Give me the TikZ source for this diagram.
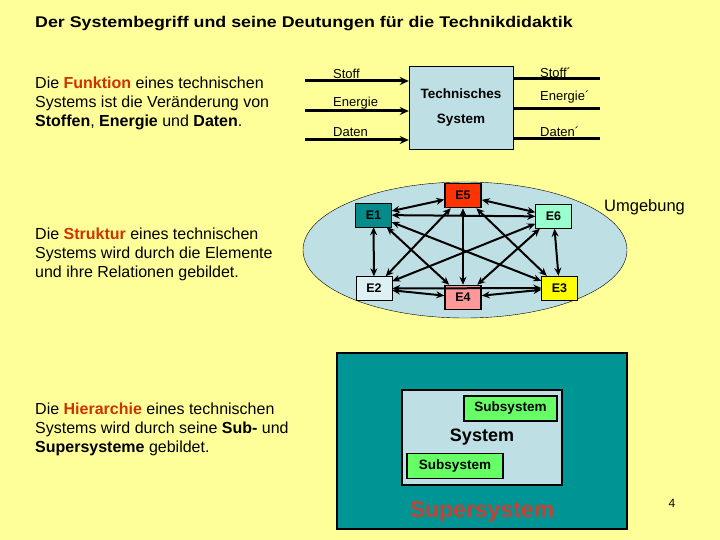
\documentclass[tikz,border=0pt]{standalone}
\usepackage{fontspec}
\setmainfont{Liberation Sans}
\newfontfamily\widefont[FakeStretch=1.15]{Liberation Sans}
\usetikzlibrary{arrows.meta}

\definecolor{bgyellow}{HTML}{FFFF99}
\definecolor{sysblue}{HTML}{BEDFE4}
\definecolor{keyred}{HTML}{CC3300}
\definecolor{supred}{HTML}{C44232}
\definecolor{teal1}{HTML}{068A8A}
\definecolor{teal2}{HTML}{009595}
\definecolor{red5}{HTML}{FF3300}
\definecolor{green6}{HTML}{99FFCC}
\definecolor{blue2}{HTML}{DDF1F4}
\definecolor{pink4}{HTML}{FF9999}
\definecolor{yellow3}{HTML}{FFFF00}
\definecolor{subgreen}{HTML}{66FF66}

\tikzset{
  para/.style={anchor=north west,inner sep=0pt,align=left,font=\fontsize{16}{19}\selectfont},
  flowlabel/.style={anchor=west,inner sep=0pt,font=\fontsize{13}{15}\selectfont},
  flow/.style={line width=3pt},
  elem/.style={draw,minimum width=36pt,minimum height=24pt,inner sep=0pt,font=\fontsize{12.5}{15}\selectfont\bfseries},
  rel/.style={{Stealth[length=8pt,width=7pt]}-{Stealth[length=8pt,width=7pt]},line width=2pt},
  subsys/.style={draw,line width=1.5pt,fill=subgreen,minimum height=25pt,inner sep=0pt,font=\fontsize{13.5}{15}\selectfont\bfseries}
}

\newcommand{\kw}[1]{{\bfseries\color{keyred}#1}}

\begin{document}
\begin{tikzpicture}[x=1pt,y=-1pt]
  \fill[bgyellow] (0,0) rectangle (720,540);
  \useasboundingbox (0,0) rectangle (720,540);

  \node [anchor=west,inner sep=0pt,font=\widefont\fontsize{15.5}{18}\selectfont\bfseries] (title) at (35,24)
    {Der Systembegriff und seine Deutungen für die Technikdidaktik};

  \node [para] (funktion) at (35,77) {Die \kw{Funktion} eines technischen\\
    Systems ist die Veränderung von\\
    \textbf{Stoffen}, \textbf{Energie} und \textbf{Daten}.};
  \node [para] (struktur) at (35,228) {Die \kw{Struktur} eines technischen\\
    Systems wird durch die Elemente\\
    und ihre Relationen gebildet.};
  \node [para] (hierarchie) at (35,403) {Die \kw{Hierarchie} eines technischen\\
    Systems wird durch seine \textbf{Sub-} und\\
    \textbf{Supersysteme} gebildet.};

  \node [draw,fill=sysblue,minimum width=104pt,minimum height=83pt,align=center,
    font=\fontsize{13.5}{25}\selectfont\bfseries] (techsys) at (461,107.5) {Technisches\\System};

  \coordinate (in1) at (305,81);
  \coordinate (in2) at (305,111);
  \coordinate (in3) at (305,140);
  \coordinate (out1) at (600,79);
  \coordinate (out2) at (600,109);
  \coordinate (out3) at (600,139);

  \foreach \i in {1,2,3} {
    \draw [flow,-{Stealth[length=9pt,width=8pt]}] (in\i) -- (in\i -| techsys.west);
    \draw [flow] (out\i -| techsys.east) -- (out\i);
  }

  \node [flowlabel] (lstoff) at (333,74) {Stoff};
  \node [flowlabel] (lenergie) at (333,103) {Energie};
  \node [flowlabel] (ldaten) at (333,132) {Daten};
  \node [flowlabel] (lstoff2) at (540,73) {Stoff´};
  \node [flowlabel] (lenergie2) at (540,97) {Energie´};
  \node [flowlabel] (ldaten2) at (540,132) {Daten´};

  \draw [fill=sysblue] (465,250) ellipse [x radius=162, y radius=68];
  \node [anchor=west,inner sep=0pt,font=\fontsize{16.5}{18}\selectfont] (umgebung) at (604,207) {Umgebung};

  \node [elem,fill=teal1] (e1) at (373.5,215) {E1};
  \node [elem,fill=red5,line width=1.5pt] (e5) at (463,195.5) {E5};
  \node [elem,fill=green6] (e6) at (553.5,216.5) {E6};
  \node [elem,fill=blue2] (e2) at (374,288.5) {E2};
  \node [elem,fill=pink4,line width=1.5pt] (e4) at (463,297.5) {E4};
  \node [elem,fill=yellow3] (e3) at (559.5,288) {E3};

  \foreach \a/\b in {e1/e5,e1/e6,e1/e2,e1/e4,e1/e3,e5/e6,e5/e2,e5/e4,e5/e3,
                     e6/e3,e6/e2,e6/e4,e2/e3,e2/e4,e4/e3}
    \draw [rel] (\a) -- (\b);

  \node [draw,line width=1.5pt,fill=teal2,minimum width=290pt,minimum height=176pt] (super) at (482,441) {};
  \node [draw,line width=1.2pt,fill=sysblue,minimum width=160pt,minimum height=95pt,
    font=\fontsize{18}{20}\selectfont\bfseries] (system) at (482,437.5) {System};
  \node [subsys,minimum width=93pt] (sub1) at (510.5,408.5) {Subsystem};
  \node [subsys,minimum width=96pt] (sub2) at (455,466) {Subsystem};
  \node [inner sep=0pt,text=supred,font=\fontsize{23}{26}\selectfont\bfseries] (suplabel) at (482,512) {Supersystem};

  \node [inner sep=0pt,font=\fontsize{12}{14}\selectfont] (pagenum) at (672,503) {4};
\end{tikzpicture}
\end{document}
